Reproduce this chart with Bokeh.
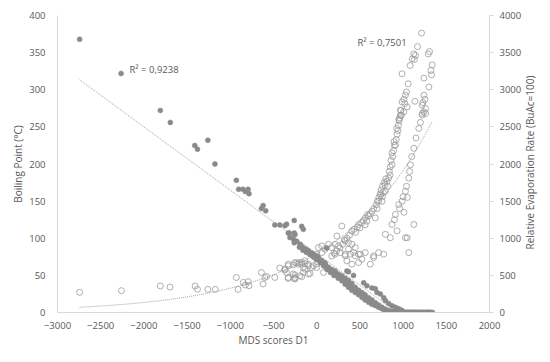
import numpy as np
from bokeh.plotting import figure
from bokeh.models import Range1d, LinearAxis, SingleIntervalTicker, Label
from bokeh.core.properties import value
from bokeh.embed import file_html
from bokeh.resources import INLINE

# ---------------- data ----------------
# Series 1: Boiling Point (°C), filled markers, left axis
bp_x = [-2744, -2264, -1810, -1694, -1411, -1380, -1260, -1178, -930, -903, -853, -826, -794, -783,
        -640, -620, -590, -485, -427, -368, -349, -329, -318, -310, -271, -260, -260, -260, -252,
        -174, -155, 116, 97,
        # band, upper row
        -233, -194, -155, -120, -96, -60, -38, 0, 20, 58, 100, 136, 175, 213, 250, 291, 330, 368, 407,
        446, 485, 523, 560, 600, 640, 680, 717, 756, 795, 833, 870, 910,
        # band, lower row
        -200, -160, -120, -80, -40, 0, 40, 80, 120, 160, 200, 250, 291, 330, 368, 407, 446, 485, 523,
        560, 601, 640, 678, 717, 756, 795, 833, 870, 910, 950, 990, 1030, 1070, 1110, 1150, 1190, 1230,
        1270, 1300, 1340,
        # band, middle row
        -180, -140, -100, -60, -20, 20, 60, 100, 140, 180, 220, 270, 310, 350, 390, 430, 470, 510, 550,
        590, 620, 660, 700, 740, 775, 815, 850, 890, 930, 970, 1010, 1050, 1090, 1130, 1170, 1210, 1250,
        1290, 1320,
        # upper thread
        349, 368, 426, 543, 581, 640, 678, 698, 736, 775, 795, 833, 872, 911, 950, 985]
bp_y = [368, 322, 272, 256, 225, 220, 232, 200, 178, 166, 166, 163, 166, 160,
        140, 144, 137, 118, 118, 117, 119, 107, 107, 101, 99, 124, 107, 94, 105,
        116, 112, 87, 67,
        96, 92, 87, 85, 83, 80, 78.5, 76, 74, 70, 65, 61, 58, 56, 52, 49.5, 46, 43, 39,
        34, 30, 27, 24, 20, 17, 13, 10, 7, 4.5, 2.5, 1.5, 1,
        88, 84, 81, 78, 75, 71, 67, 63, 58, 54, 50, 46, 42.8, 38, 34, 30, 27, 24, 20.5,
        17, 13.8, 11, 9.4, 7, 5, 3, 1.3, 0.8, 0.5, 0.5, 0.4, 0.4, 0.3, 0.3, 0.3, 0.2, 0.2,
        0.2, 0.2, 0.1,
        90, 86, 82, 78, 75, 71, 67, 62, 58, 55, 51, 47, 44, 40, 36, 32, 28, 24, 20,
        17, 14, 12, 9, 6.5, 4.5, 2.5, 1.5, 1, 0.7, 0.6, 0.5, 0.4, 0.4, 0.3, 0.3, 0.3, 0.2,
        0.2, 0.2,
        56, 55, 50, 40, 36, 33, 32, 27, 25, 20, 16, 12, 9, 7, 5, 3]

# Series 2: Relative Evaporation Rate (BuAc=100), open markers, right axis
er_x = [-2744, -2260, -1810, -1698, -1407, -1380, -1260, -1174, -930, -910, -850, -794, -826, -783,
        -640, -600, -620, -580, -485,
        -427, -368, -329, -271, -233, -202, -174, -155, -136, -96, -58, -329, -260, -252, -174, -77,
        -369, -349, -271, -252, -194, -155, -136, -96, -329, -252,
        -329, -252, -213, -174, -136, -96, -38, 0,
        -19, 0, 58, 20, 58, 97, 136, 174, 213, 233, 291, 0, 78,
        330, 368, 407, 446, 368, 426, 485, 330, 271, 213,
        523, 485, 407, 349, 620,
        330, 388, 446, 504, 562, 659, 717, 775, 1066,
        1124, 1047, 1027, 795, 659,
        # main thread
        174, 200, 230, 252, 270, 300, 320, 350,
        380, 407, 430, 450, 470, 485, 500, 520, 540, 562, 580, 600, 620, 640, 560, 590,
        660, 678, 690, 700, 717, 720, 735, 745, 756, 760, 770, 780, 795, 800, 814, 820, 700, 740, 760, 790,
        833, 840, 850, 860, 872, 880, 890, 900, 911, 920, 930, 940, 945, 955, 960, 969, 975, 850, 870,
        895, 925, 950,
        988, 1008, 1027, 1039, 1020, 1047, 969, 1008, 980, 1058, 988, 1136,
        # secondary thread
        852, 872, 911, 949, 988, 1027, 1066, 1085, 1124, 1182, 1221, 900, 960, 1000, 1040, 1075, 1100,
        1150, 1200, 930, 1010, 1050,
        # upper scatter
        1213, 1167, 1306, 1291, 1124, 1143, 1105, 1131, 1081, 1337, 1322, 1329, 1241, 1298,
        1241, 1253, 1229, 1221, 1260, 1241, 1221, 1260]
er_y = [272, 294, 357, 343, 357, 312, 312, 312, 472, 312, 405, 415, 370, 361,
        539, 472, 384, 486, 472,
        598, 571, 629, 642, 665, 673, 651, 606, 660, 629, 606, 459, 459, 504, 482, 526,
        585, 539, 518, 472, 495, 539, 585, 518, 472, 451,
        651, 673, 651, 673, 696, 651, 629, 651,
        740, 785, 807, 874, 896, 852, 919, 874, 919, 1030, 1164, 606, 539,
        963, 941, 919, 874, 852, 807, 785, 785, 807, 785,
        718, 673, 651, 696, 651,
        763, 785, 763, 785, 807, 740, 807, 785, 807,
        1186, 1007, 1007, 1053, 763,
        760, 800, 830, 896, 870, 920, 980, 1000,
        1040, 1097, 1120, 1080, 1150, 1186, 1140, 1210, 1240, 1275, 1230, 1300, 1330, 1365, 1180, 1320,
        1400, 1275, 1450, 1500, 1498, 1550, 1600, 1650, 1498, 1700, 1620, 1750, 1632, 1800, 1766, 1700,
        1400, 1580, 1560, 1720,
        1810, 1900, 1960, 2050, 1989, 2100, 2180, 2250, 2257, 2330, 2400, 2450, 2520, 2580, 2620, 2658,
        2720, 1850, 2150, 2300, 2480, 2600,
        2836, 2872, 2926, 2970, 2814, 2769, 2725, 2702, 2658, 3081, 3215, 2845,
        1007, 1186, 1320, 1454, 1498, 1632, 1810, 1989, 2212, 2479, 2680, 1250, 1400, 1560, 1700, 1900,
        2100, 2350, 2560, 1100, 1350, 1550,
        3763, 3581, 3514, 3482, 3482, 3461, 3416, 3407, 3327, 3335, 3260, 3201, 3157, 3037,
        2926, 2872, 2827, 2792, 2747, 2702, 2658, 2680]

# trend lines: linear (BP) and exponential (ER)
bp_trend_slope, bp_trend_intercept = -0.0853, 79.4
er_trend_a, er_trend_b = 791.0, 0.000883
bp_r2_text = "R² = 0,9238"
er_r2_text = "R² = 0,7501"
right_title = "Relative Evaporation Rate (BuAc=100)"

FONT = "Open Sans"
TXT = "#595959"
AX = "#d9d9d9"

# ---------------- figure ----------------
p = figure(width=538, height=350, output_backend="svg", toolbar_location=None,
           x_range=Range1d(-3000, 2000), y_range=Range1d(0, 400),
           min_border_left=57, min_border_right=49, min_border_top=15, min_border_bottom=38)
p.extra_y_ranges = {"er": Range1d(0, 4000)}
p.xgrid.visible = False
p.ygrid.visible = False
p.outline_line_color = None
p.background_fill_color = "white"
p.border_fill_color = "white"

for ax in (p.xaxis[0], p.yaxis[0]):
    ax.axis_line_color = AX
    ax.axis_line_width = 1
    ax.major_tick_line_color = None
    ax.minor_tick_line_color = None
    ax.major_label_text_font = FONT
    ax.major_label_text_font_size = "9.5px"
    ax.major_label_text_color = TXT
    ax.axis_label_text_font = FONT
    ax.axis_label_text_font_size = "10px"
    ax.axis_label_text_font_style = "normal"
    ax.axis_label_text_color = TXT

p.xaxis.ticker = SingleIntervalTicker(interval=500)
p.yaxis.ticker = SingleIntervalTicker(interval=50)
p.xaxis.axis_label = "MDS scores D1"
p.yaxis.axis_label = "Boiling Point (°C)"
p.xaxis.major_label_standoff = 3
p.xaxis.axis_label_standoff = 1
p.yaxis.major_label_standoff = 6
p.yaxis.axis_label_standoff = 1

rax = LinearAxis(y_range_name="er", ticker=SingleIntervalTicker(interval=500))
rax.axis_line_color = AX
rax.major_tick_line_color = AX
rax.major_tick_out = 4
rax.major_tick_in = 0
rax.minor_tick_line_color = None
rax.major_label_text_font = FONT
rax.major_label_text_font_size = "9.5px"
rax.major_label_text_color = TXT
rax.major_label_standoff = 6
p.add_layout(rax, "right")

# right axis title, reading bottom-to-top as in the reference (kept in a side panel so it is not clipped)
p.add_layout(Label(x=2463, y=202, text=right_title, angle=np.pi / 2,
                   text_font=FONT, text_font_size="10px", text_color=TXT,
                   text_align="center", text_baseline="middle"), "right")

# trend lines
tx1 = np.linspace(min(bp_x), max(bp_x), 100)
p.line(tx1, bp_trend_slope * tx1 + bp_trend_intercept, line_color="#8c8c8c",
       line_width=0.8, line_dash="1 1")
tx2 = np.linspace(min(er_x), max(er_x), 200)
p.line(tx2, er_trend_a * np.exp(er_trend_b * tx2), line_color="#8c8c8c",
       line_width=0.8, line_dash="1 1", y_range_name="er")

# markers
p.scatter(er_x, er_y, marker="circle", size=6, fill_color=None,
          line_color="#9a9a9a", line_width=0.8, y_range_name="er")
p.scatter(bp_x, bp_y, marker="circle", size=5, fill_color="#8a8a8a",
          line_color="#8a8a8a", line_width=0.5)

# R² labels
p.text(x=[-2167], y=[327], text=[bp_r2_text], text_font=value(FONT),
       text_font_size="9.5px", text_color=TXT, text_baseline="middle", text_align="left")
p.text(x=[472], y=[364], text=[er_r2_text], text_font=value(FONT),
       text_font_size="9.5px", text_color=TXT, text_baseline="middle", text_align="left")

open("out.html", "w").write(file_html(p, INLINE))
